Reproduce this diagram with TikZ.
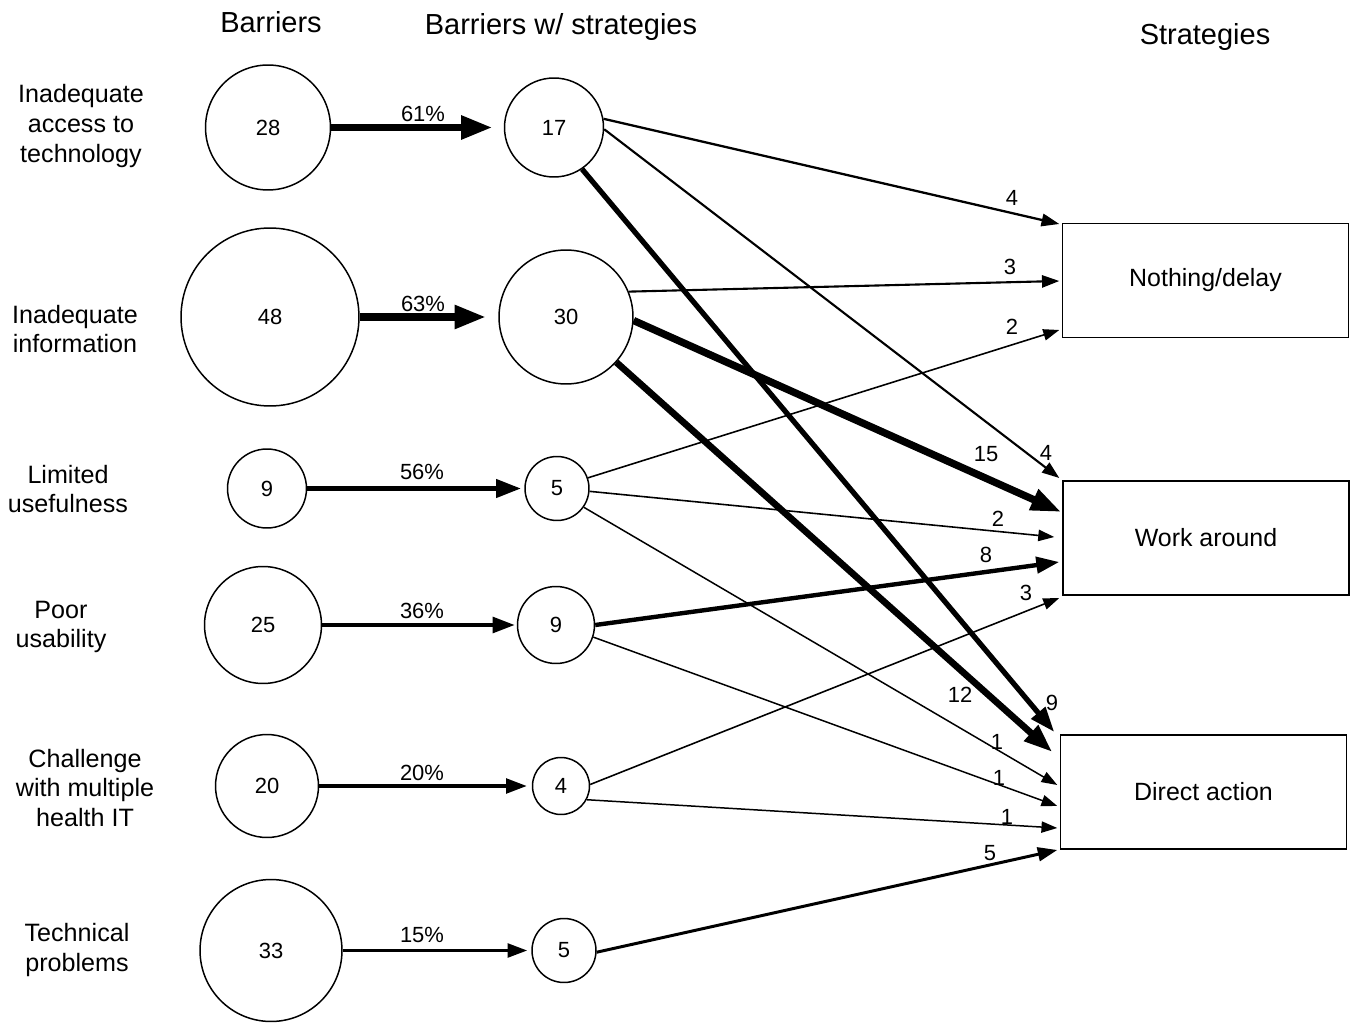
\documentclass[tikz,border=0pt]{standalone}
\usepackage{fontspec}
\setmainfont{Liberation Sans}
\usetikzlibrary{arrows.meta,calc}

\tikzset{
bcirc/.style={draw,circle,line width=0.85pt,inner sep=0pt,fill=white,
font=\fontsize{12.5}{15}\selectfont},
strat/.style={draw,rectangle,line width=0.85pt,minimum width=5.72cm,
minimum height=2.28cm,font=\fontsize{14.2}{17}\selectfont},
barlab/.style={align=center,font=\fontsize{14.3}{17}\selectfont},
coltitle/.style={anchor=base,font=\fontsize{16.5}{20}\selectfont},
cnt/.style={font=\fontsize{12.5}{15}\selectfont},
flow/.style={line width=#1,-{Triangle[length=6.9pt 2.47,width=4.95pt 1.68]}}
}

\begin{document}
\begin{tikzpicture}[x=0.02cm,y=-0.02cm]
\useasboundingbox (0,0) rectangle (1355,1023);

% column titles
\node[coltitle] (tbar) at (271,33){Barriers};
\node[coltitle] (tbws) at (561,35){Barriers w/ strategies};
\node[coltitle] (tstr) at (1205,45){Strategies};

% barrier names
\node[barlab] (n1) at (81,126){Inadequate\\access to\\technology};
\node[barlab] (n2) at (75,329){Inadequate\\information};
\node[barlab] (n3) at (68,489){Limited\\usefulness};
\node[barlab] (n4) at (61,627){Poor\\usability};
\node[barlab] (n5) at (85,788){Challenge\\with multiple\\health IT};
\node[barlab] (n6) at (77,950){Technical\\problems};

% barriers
\node[bcirc,minimum size=2.5cm] (b1) at (268,127.5){28};
\node[bcirc,minimum size=3.56cm] (b2) at (270,317){48};
\node[bcirc,minimum size=1.58cm] (b3) at (267,488.5){9};
\node[bcirc,minimum size=2.34cm] (b4) at (263,625){25};
\node[bcirc,minimum size=2.06cm] (b5) at (267,786){20};
\node[bcirc,minimum size=2.84cm] (b6) at (271,950.5){33};

% barriers w/ strategies
\node[bcirc,minimum size=1.98cm] (m1) at (554,127.5){17};
\node[bcirc,minimum size=2.68cm] (m2) at (566,317){30};
\node[bcirc,minimum size=1.28cm] (m3) at (557,488.5){5};
\node[bcirc,minimum size=1.54cm] (m4) at (556,625){9};
\node[bcirc,minimum size=1.14cm] (m5) at (561,786){4};
\node[bcirc,minimum size=1.28cm] (m6) at (564,950.5){5};

% strategies
\node[strat] (nd) at (1205.5,280.5){Nothing/delay};
\node[strat] (wa) at (1206,538){Work around};
\node[strat] (da) at (1203.5,792){Direct action};

\draw [flow=4.5pt,shorten >=6.2pt] (b1) to (m1);
\draw [flow=4.5pt,shorten >=6.8pt] (b2) to (m2);
\draw [flow=3pt,shorten >=1.7pt] (b3) to (m3);
\draw [flow=2.3pt,shorten >=1.1pt] (b4) to (m4);
\draw [flow=2pt,shorten >=2.8pt] (b5) to (m5);
\draw [flow=1.7pt,shorten >=2.3pt] (b6) to (m6);

\node[cnt] (p1) at (423,114){61\%};
\node[cnt] (p2) at (423,304){63\%};
\node[cnt] (p3) at (422,472){56\%};
\node[cnt] (p4) at (422,611){36\%};
\node[cnt] (p5) at (422,773){20\%};
\node[cnt] (p6) at (422,935){15\%};

\draw [flow=1.3pt] (m1.10) to ($(nd.west)+(-2.5,-56.5)$);
\draw [flow=1.2pt] (m1.-2) to ($(wa.west)+(-3,-60)$);
\draw [flow=3pt] (m1.-56) to ($(da.west)+(-5.5,-60)$);

\draw [flow=1.2pt] (m2.22) to ($(nd.west)+(-2.5,0.5)$);
\draw [flow=4.2pt] (m2.-3) to ($(wa.west)+(-1,-26)$);
\draw [flow=3.8pt] (m2.-42) to ($(da.west)+(-7.5,-40)$);

\draw [flow=0.9pt] (m3.19) to ($(nd.west)+(-2.5,49.5)$);
\draw [flow=0.9pt] (m3.-5) to ($(wa.west)+(-8,-1)$);
\draw [flow=0.85pt] (m3.-35) to ($(da.west)+(-2.5,-7)$);

\draw [flow=2.5pt] (m4.east) to ($(wa.west)+(-3,24)$);
\draw [flow=0.85pt] (m4.-18) to ($(da.west)+(-2.5,14)$);

\draw [flow=0.9pt] (m5.3) to ($(wa.west)+(-3,60)$);
\draw [flow=0.85pt] (m5.-28) to ($(da.west)+(-2.5,36)$);

\draw [flow=1.7pt] (m6.-3) to ($(da.west)+(-2.5,58)$);

\node[cnt] (l1) at (1012,198){4};
\node[cnt] (l2) at (1010,267){3};
\node[cnt] (l3) at (1012,327){2};
\node[cnt] (l4) at (986,454){15};
\node[cnt] (l5) at (1046,453){4};
\node[cnt] (l6) at (998,519){2};
\node[cnt] (l7) at (986,555){8};
\node[cnt] (l8) at (1026,593){3};
\node[cnt] (l9) at (960,695){12};
\node[cnt] (l10) at (1052,703){9};
\node[cnt] (l11) at (997,742){1};
\node[cnt] (l12) at (999,778){1};
\node[cnt] (l13) at (1007,817){1};
\node[cnt] (l14) at (990,853){5};
\end{tikzpicture}
\end{document}
